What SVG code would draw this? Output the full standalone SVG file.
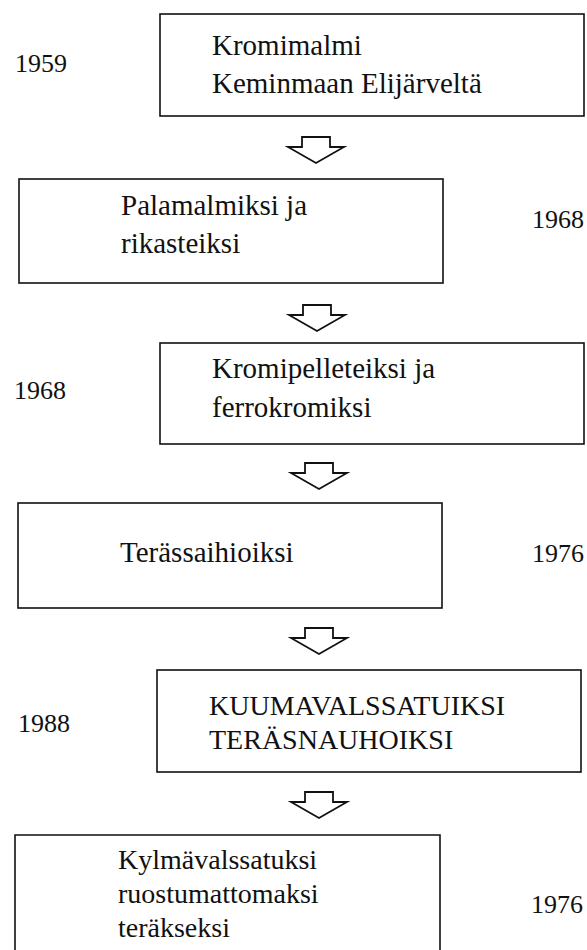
<svg xmlns="http://www.w3.org/2000/svg" width="587" height="950" viewBox="0 0 587 950">
<style>
.box{fill:#fff;stroke:#111;stroke-width:1.6}
.t{font-family:"Liberation Serif","Times New Roman",serif;font-size:29px;fill:#111}
.s{font-size:28px}
.y{font-family:"Liberation Serif","Times New Roman",serif;font-size:26px;fill:#111}
.arr{fill:#fff;stroke:#111;stroke-width:1.8;stroke-linejoin:miter}
</style>
<defs>
<path id="arrow" d="M-14,0 H14 V10 H28 L0,26 L-28,10 H-14 Z"/>
</defs>
<rect width="587" height="950" fill="#fff"/>
<g id="connectors">
<use href="#arrow" class="arr" x="316" y="137"/>
<use href="#arrow" class="arr" x="317" y="305"/>
<use href="#arrow" class="arr" x="319" y="463"/>
<use href="#arrow" class="arr" x="319" y="628"/>
<use href="#arrow" class="arr" x="319" y="792"/>
</g>
<g id="node1">
<rect class="box" x="160" y="14" width="424" height="102"/>
<text class="t" x="212" y="55">Kromimalmi</text>
<text class="t" x="212" y="93">Keminmaan Elijärveltä</text>
<text class="y" x="15" y="72">1959</text>
</g>
<g id="node2">
<rect class="box" x="19" y="179" width="424" height="104"/>
<text class="t" x="121" y="215">Palamalmiksi ja</text>
<text class="t" x="121" y="253">rikasteiksi</text>
<text class="y" x="532" y="228">1968</text>
</g>
<g id="node3">
<rect class="box" x="160" y="343" width="424" height="101"/>
<text class="t" x="212" y="378">Kromipelleteiksi ja</text>
<text class="t" x="212" y="417">ferrokromiksi</text>
<text class="y" x="14" y="399">1968</text>
</g>
<g id="node4">
<rect class="box" x="18" y="503" width="424" height="105"/>
<text class="t" x="120" y="562">Terässaihioiksi</text>
<text class="y" x="532" y="562">1976</text>
</g>
<g id="node5">
<rect class="box" x="157" y="670" width="424" height="102"/>
<text class="t s" x="209" y="715">KUUMAVALSSATUIKSI</text>
<text class="t s" x="209" y="749">TERÄSNAUHOIKSI</text>
<text class="y" x="18" y="732">1988</text>
</g>
<g id="node6">
<path class="box" d="M15,960 V835 H440 V960"/>
<text class="t s" x="118" y="869">Kylmävalssatuksi</text>
<text class="t s" x="118" y="903">ruostumattomaksi</text>
<text class="t s" x="118" y="937">teräkseksi</text>
<text class="y" x="531" y="913">1976</text>
</g>
</svg>
